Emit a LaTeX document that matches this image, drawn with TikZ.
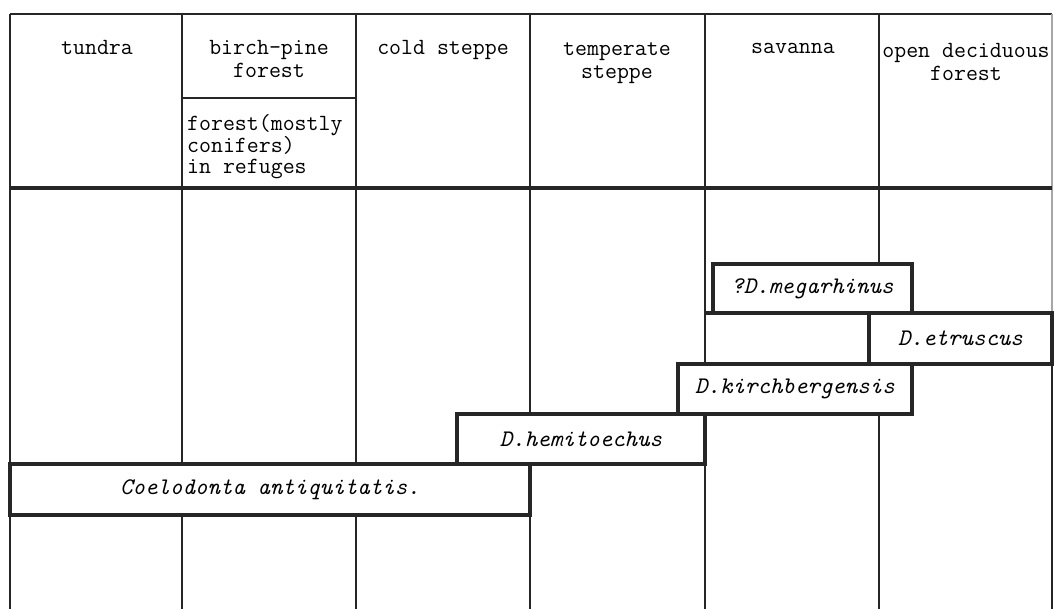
\documentclass[tikz,border=0pt]{standalone}
\usepackage{fontspec}
\begin{document}
\begin{tikzpicture}[x=1pt,y=-1pt,
  grid/.style={line width=2.3pt,black!85},
  heavy/.style={line width=3.6pt,black!85},
  hdr/.style={font=\ttfamily\fontsize{23.2}{23.5}\selectfont,align=center,inner sep=0pt,anchor=north},
  sp/.style={draw=black!85,line width=3.4pt,inner sep=0pt,font=\ttfamily\itshape\fontsize{23.8}{24}\selectfont}]
\useasboundingbox (0,0) rectangle (1054,609);
% header texts
\node[hdr] (tu) at (97,40) {tundra};
\node[hdr] (bp) at (269,40) {birch-pine\\forest};
\node[hdr,align=left,anchor=north west,font=\ttfamily\fontsize{23.2}{21}\selectfont] (fr) at (187,114) {forest(mostly\\conifers)\\in refuges};
\node[hdr] (cs) at (443,40) {cold steppe};
\node[hdr] (ts) at (617,42) {temperate\\steppe};
\node[hdr] (sa) at (793,43) {savanna};
\node[hdr] (od) at (966,43) {open deciduous\\forest};
% grid lines
\draw[grid] (10,14) -- (1052,14);
\draw[grid] (10,14) -- (10,609);
\draw[grid] (182,14) -- (182,464) (182,516) -- (182,609);
\draw[grid] (356,14) -- (356,464) (356,516) -- (356,609);
\draw[grid] (530,14) -- (530,414) (530,464) -- (530,609);
\draw[grid] (705,14) -- (705,364) (705,414) -- (705,609);
\draw[grid] (879,14) -- (879,264) (879,414) -- (879,609);
\draw[line width=1.4pt,black!35] (1052,14) -- (1052,313);
\draw[grid] (1052,364) -- (1052,609);
\draw[grid] (182,98) -- (356,98);
\draw[heavy] (10,188) -- (1052,188);
\draw[heavy] (705,313) -- (1052,313);
% species boxes
\node[sp,minimum width=199pt,minimum height=49pt] (meg) at (812.5,288.5) {?D.megarhinus};
\node[sp,minimum width=183pt,minimum height=51pt] (etr) at (960.5,338.5) {D.etruscus};
\node[sp,minimum width=234pt,minimum height=50pt] (kir) at (795,389) {D.kirchbergensis};
\node[sp,minimum width=248pt,minimum height=50pt] (hem) at (581,439) {D.hemitoechus};
\node[sp,minimum width=520pt,minimum height=51pt] (coe) at (270,489.5) {Coelodonta antiquitatis.};
\end{tikzpicture}
\end{document}
